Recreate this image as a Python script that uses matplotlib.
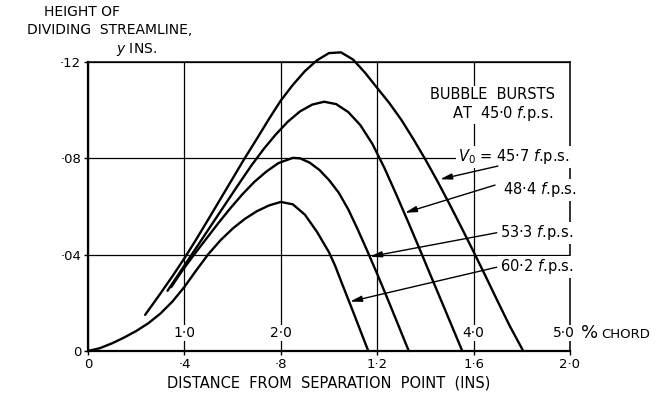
# height of dividing streamline vs distance from separation point
import numpy as np
import matplotlib
matplotlib.use('Agg')
import matplotlib.pyplot as plt

plt.rcParams['font.family'] = ['DejaVu Sans']

# ---- data ----
# V0 = 45.7 f.p.s.
x_457 = [0.237, 0.30, 0.35, 0.40, 0.45, 0.50, 0.55, 0.60, 0.65, 0.70, 0.75, 0.80, 0.85,
         0.90, 0.95, 1.00, 1.05, 1.10, 1.15, 1.20, 1.25, 1.30, 1.35, 1.40, 1.45, 1.50,
         1.55, 1.60, 1.65, 1.70, 1.75, 1.806]
y_457 = [0.0150, 0.0238, 0.0310, 0.0385, 0.0465, 0.0548, 0.0632, 0.0716, 0.0800, 0.0880,
         0.0962, 0.1040, 0.1105, 0.1162, 0.1207, 0.1237, 0.1240, 0.1210, 0.1155, 0.1092,
         0.1030, 0.0960, 0.0880, 0.0795, 0.0705, 0.0610, 0.0512, 0.0412, 0.0310, 0.0206,
         0.0104, 0.0]
# 48.4 f.p.s.
x_484 = [0.33, 0.38, 0.43, 0.48, 0.53, 0.58, 0.63, 0.68, 0.73, 0.78, 0.83, 0.88, 0.93,
         0.98, 1.03, 1.08, 1.13, 1.18, 1.23, 1.28, 1.33, 1.38, 1.43, 1.48, 1.553]
y_484 = [0.0250, 0.0325, 0.0400, 0.0475, 0.0550, 0.0625, 0.0700, 0.0773, 0.0840, 0.0900,
         0.0953, 0.0995, 0.1023, 0.1035, 0.1025, 0.0992, 0.0938, 0.0860, 0.0760, 0.0648,
         0.0532, 0.0414, 0.0294, 0.0175, 0.0]
# 53.3 f.p.s.
x_533 = [0.345, 0.39, 0.44, 0.49, 0.54, 0.59, 0.64, 0.69, 0.74, 0.79, 0.85, 0.88, 0.92,
         0.96, 1.00, 1.04, 1.08, 1.12, 1.16, 1.20, 1.24, 1.28, 1.331]
y_533 = [0.0265, 0.0332, 0.0400, 0.0465, 0.0530, 0.0592, 0.0650, 0.0702, 0.0745, 0.0780,
         0.0802, 0.0800, 0.0782, 0.0752, 0.0710, 0.0658, 0.0588, 0.0503, 0.0413, 0.0320,
         0.0224, 0.0126, 0.0]
# 60.2 f.p.s.
x_602 = [0.0, 0.05, 0.10, 0.15, 0.20, 0.25, 0.30, 0.35, 0.40, 0.45, 0.50, 0.55, 0.60,
         0.65, 0.70, 0.75, 0.80, 0.85, 0.90, 0.95, 1.00, 1.025, 1.05, 1.10, 1.163]
y_602 = [0.0, 0.0012, 0.0032, 0.0056, 0.0083, 0.0115, 0.0155, 0.0205, 0.0266, 0.0336,
         0.0403, 0.0460, 0.0508, 0.0548, 0.0580, 0.0604, 0.0619, 0.0609, 0.0566, 0.0495,
         0.0410, 0.0355, 0.0290, 0.0163, 0.0]

x_ticks = [0, 0.4, 0.8, 1.2, 1.6, 2.0]
x_tick_labels = ['0', '·4', '·8', '1·2', '1·6', '2·0']
y_ticks = [0, 0.04, 0.08, 0.12]
y_tick_labels = ['0', '·04', '·08', '·12']

# percent chord scale written inside the plot
chord_x = [0.4, 0.8, 1.6]
chord_labels = ['1·0', '2·0', '4·0']

curve_labels = ['$V_0$ = 45·7 $f$.p.s.', '48·4 $f$.p.s.', '53·3 $f$.p.s.', '60·2 $f$.p.s.']
label_pos = [(1.535, 0.0806), (1.723, 0.0670), (1.709, 0.0490), (1.709, 0.0350)]
arrow_tail = [(1.701, 0.0768), (1.689, 0.0689), (1.696, 0.0491), (1.696, 0.0348)]
arrow_tip = [(1.461, 0.0713), (1.315, 0.0574), (1.170, 0.0392), (1.087, 0.0205)]

fig = plt.figure(figsize=(6.63, 3.99), dpi=100)
ax = fig.add_axes([88 / 663, 48 / 399, 482 / 663, 289 / 399])
ax.set_xlim(0, 2.0)
ax.set_ylim(0, 0.12)

for s in ['left', 'bottom']:
    ax.spines[s].set_linewidth(1.6)
for s in ['top', 'right']:
    ax.spines[s].set_linewidth(1.1)

ax.grid(True, color='k', lw=0.9)
ax.set_xticks(x_ticks)
ax.set_xticklabels(x_tick_labels, fontsize=9.5)
ax.set_yticks(y_ticks)
ax.set_yticklabels(y_tick_labels, fontsize=9.5)
ax.tick_params(axis='both', direction='out', length=3, width=1, pad=2)

for xs, ys in [(x_457, y_457), (x_484, y_484), (x_533, y_533), (x_602, y_602)]:
    ax.plot(xs, ys, color='k', lw=1.7, clip_on=False, solid_joinstyle='round',
            solid_capstyle='round', zorder=2)

box = dict(facecolor='white', edgecolor='none', pad=1.0)
for cx, cl in zip(chord_x, chord_labels):
    ax.text(cx, 0.0075, cl, ha='center', va='center', fontsize=10, bbox=box, zorder=4)
ax.text(1.928, 0.0075, '5·0', ha='left', va='center', fontsize=10, bbox=box,
        zorder=4, clip_on=False)
ax.text(2.045, 0.0075, '%', ha='left', va='center', fontsize=13, zorder=4, clip_on=False)
ax.text(2.13, 0.0070, 'CHORD', ha='left', va='center', fontsize=9.5, zorder=4, clip_on=False)

ax.text(1.938, 0.1063, 'BUBBLE  BURSTS', ha='right', va='center', fontsize=10.5,
        bbox=box, zorder=4)
ax.text(1.929, 0.0988, 'AT  45·0 $f$.p.s.', ha='right', va='center', fontsize=10.5,
        bbox=box, zorder=4)

for lab, pos in zip(curve_labels, label_pos):
    ax.text(pos[0], pos[1], lab, ha='left', va='center', fontsize=10.5, bbox=box,
            zorder=4, clip_on=False)
for tail, tip in zip(arrow_tail, arrow_tip):
    ax.annotate('', xy=tip, xytext=tail, zorder=5,
                arrowprops=dict(arrowstyle='-|>,head_length=0.7,head_width=0.18',
                                color='k', lw=1.0, shrinkA=0, shrinkB=0))

ax.set_xlabel('DISTANCE  FROM  SEPARATION  POINT  (INS)', fontsize=10.5, labelpad=3)

fig.text(82 / 663, 1 - 12 / 399, 'HEIGHT OF', ha='center', va='center', fontsize=10)
fig.text(110 / 663, 1 - 30 / 399, 'DIVIDING  STREAMLINE,', ha='center', va='center', fontsize=10)
fig.text(137 / 663, 1 - 50 / 399, '$y$ INS.', ha='center', va='center', fontsize=10)

fig.savefig('out.png', dpi=100)
